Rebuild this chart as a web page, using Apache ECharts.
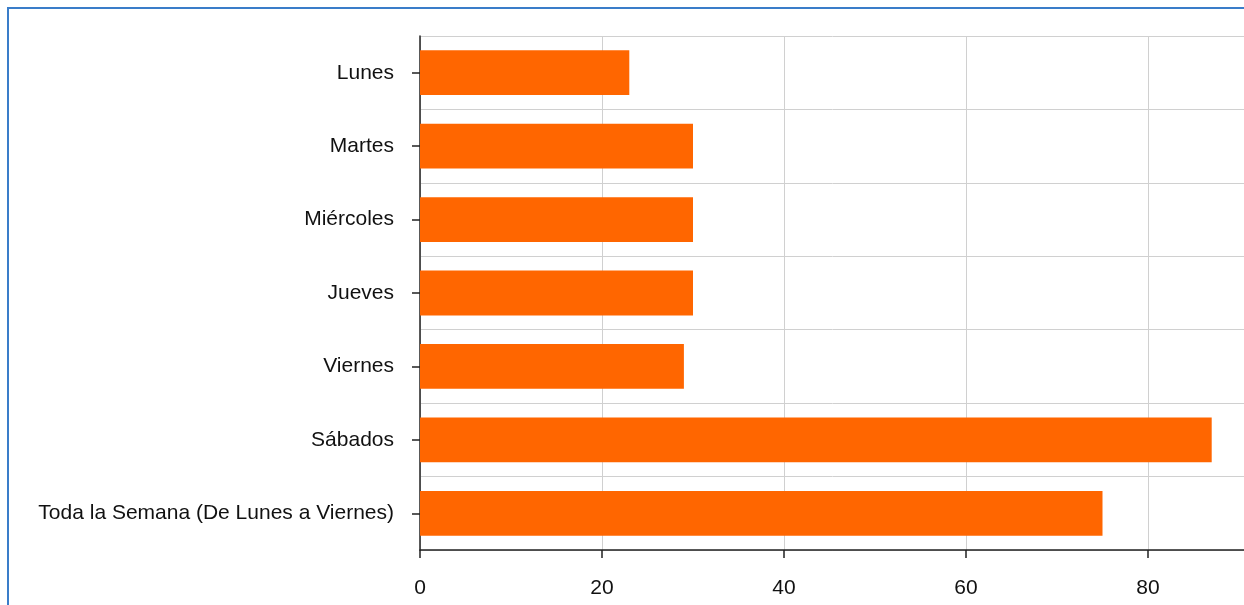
<!DOCTYPE html>
<html>
<head>
<meta charset="utf-8">
<script src="https://cdn.jsdelivr.net/npm/echarts@6/dist/echarts.min.js"></script>
<style>
  html, body { margin: 0; padding: 0; background: #fff; overflow: hidden; }
  #chart { position: absolute; left: 0; top: 0; width: 1244px; height: 605px; }
  #frame { position: absolute; left: 7px; top: 7px; width: 1400px; height: 800px;
           border-left: 2px solid #3a7dc9; border-top: 2px solid #3a7dc9; pointer-events: none; }
</style>
</head>
<body>
<div id="chart"></div>
<div id="frame"></div>
<script>
const categories = ['Lunes', 'Martes', 'Miércoles', 'Jueves', 'Viernes', 'Sábados', 'Toda la Semana (De Lunes a Viernes)'];
const values = [23, 30, 30, 30, 29, 87, 75];
const xTicks = [0, 20, 40, 60, 80];

const chart = echarts.init(document.getElementById('chart'), null, { renderer: 'canvas' });
chart.setOption({
  animation: false,
  grid: { left: 420, width: 910, top: 36, bottom: 55, containLabel: false, outerBoundsMode: 'none' },
  xAxis: {
    type: 'value', min: 0, max: 100, interval: 20,
    axisLine: { show: true, lineStyle: { color: '#222', width: 1.5 } },
    axisTick: { show: true, length: 8, lineStyle: { color: '#222', width: 1.5 } },
    axisLabel: {
      margin: 28, fontSize: 21, color: '#111', fontFamily: '"Liberation Sans", Arial, sans-serif',
      formatter: v => xTicks.includes(v) ? String(v) : ''
    },
    splitLine: { show: true, lineStyle: { color: '#d0d0d0', width: 1 } }
  },
  yAxis: {
    type: 'category', data: categories, inverse: true,
    axisLine: { show: true, lineStyle: { color: '#222', width: 1.5 } },
    axisTick: { show: true, alignWithLabel: true, length: 8, lineStyle: { color: '#222', width: 1.5 } },
    axisLabel: { margin: 26, fontSize: 21, color: '#111', fontFamily: '"Liberation Sans", Arial, sans-serif' },
    splitLine: { show: true, lineStyle: { color: '#d0d0d0', width: 1 } }
  },
  series: [{
    type: 'bar', data: values, barCategoryGap: '39%',
    itemStyle: { color: '#ff6600' }
  }]
});
</script>
</body>
</html>
